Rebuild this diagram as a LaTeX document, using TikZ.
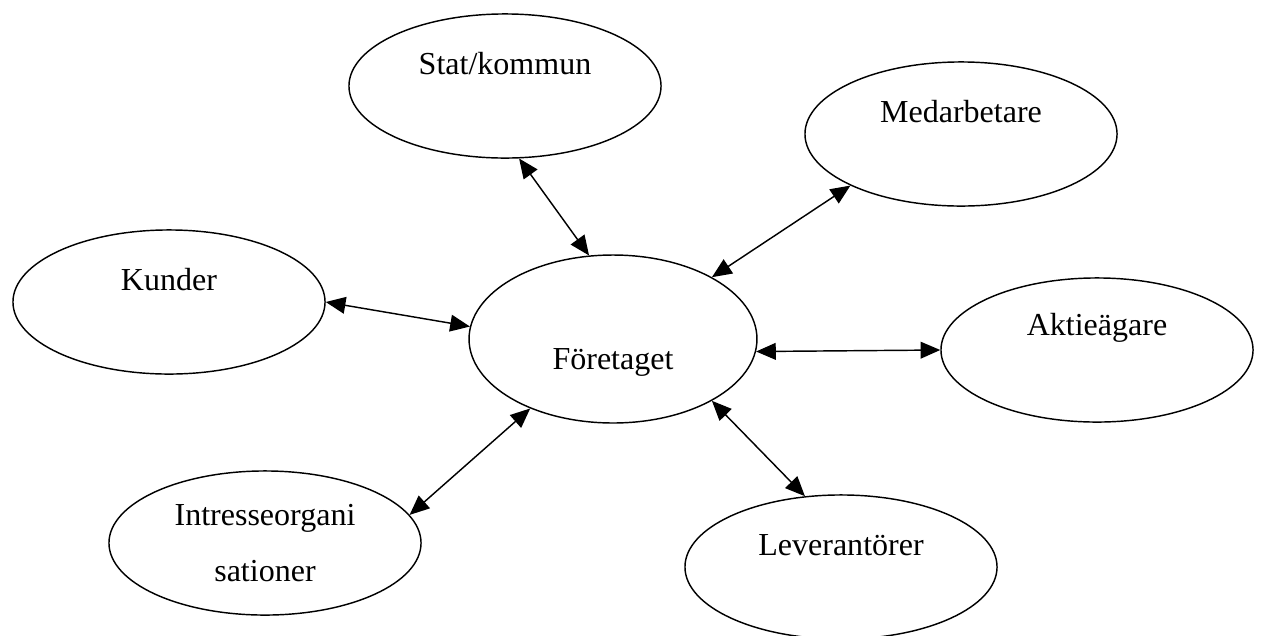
\documentclass[tikz,border=0pt]{standalone}
\usepackage{fontspec}
\setmainfont{Liberation Serif}
\usetikzlibrary{arrows.meta,shapes.geometric}
\tikzset{every picture/.style={line width=0.55pt}}

\begin{document}
\begin{tikzpicture}[x=0.381pt, y=-0.381pt, >={Triangle[length=7.5pt,width=6.4pt]},
    part/.style={draw, ellipse, inner sep=0pt, minimum width=118.9pt, minimum height=54.9pt},
    etikett/.style={font=\fontsize{12.2}{21}\selectfont, align=center, inner sep=0pt}]
    \useasboundingbox (0,0) rectangle (1261,635);

    % intressenter
    \node[part] (stat) at (505,86) {};
    \node[part] (medarbetare) at (961,134) {};
    \node[part] (kunder) at (169,302) {};
    \node[part] (aktieagare) at (1097,350) {};
    \node[part] (intresse) at (265,543) {};
    \node[part] (leverantorer) at (841,567) {};
    \node[part, minimum width=109.7pt, minimum height=64pt] (foretaget) at (613,339) {};

    % texter
    \node[etikett] (stat-txt) at ([yshift=8.4pt]stat.center) {Stat/kommun};
    \node[etikett] (medarbetare-txt) at ([yshift=8.4pt]medarbetare.center) {Medarbetare};
    \node[etikett] (kunder-txt) at ([yshift=8.4pt]kunder.center) {Kunder};
    \node[etikett] (aktieagare-txt) at ([yshift=8.4pt]aktieagare.center) {Aktieägare};
    \node[etikett] (intresse-txt) at (intresse.center) {Intresseorgani\\sationer};
    \node[etikett] (leverantorer-txt) at ([yshift=8.4pt]leverantorer.center) {Leverantörer};
    \node[etikett] (foretaget-txt) at ([yshift=-8.8pt]foretaget.center) {Företaget};

    % pilar
    \draw[<->] (stat.281) -- (foretaget.106);
    \draw[<->] (medarbetare.205) -- (foretaget.32);
    \draw[<->] (kunder.0) -- (foretaget.175);
    \draw[<->] (foretaget.355) -- (aktieagare.180);
    \draw[<->] (intresse.11) -- (foretaget.220);
    \draw[<->] (foretaget.328) -- (leverantorer.117);
\end{tikzpicture}
\end{document}
